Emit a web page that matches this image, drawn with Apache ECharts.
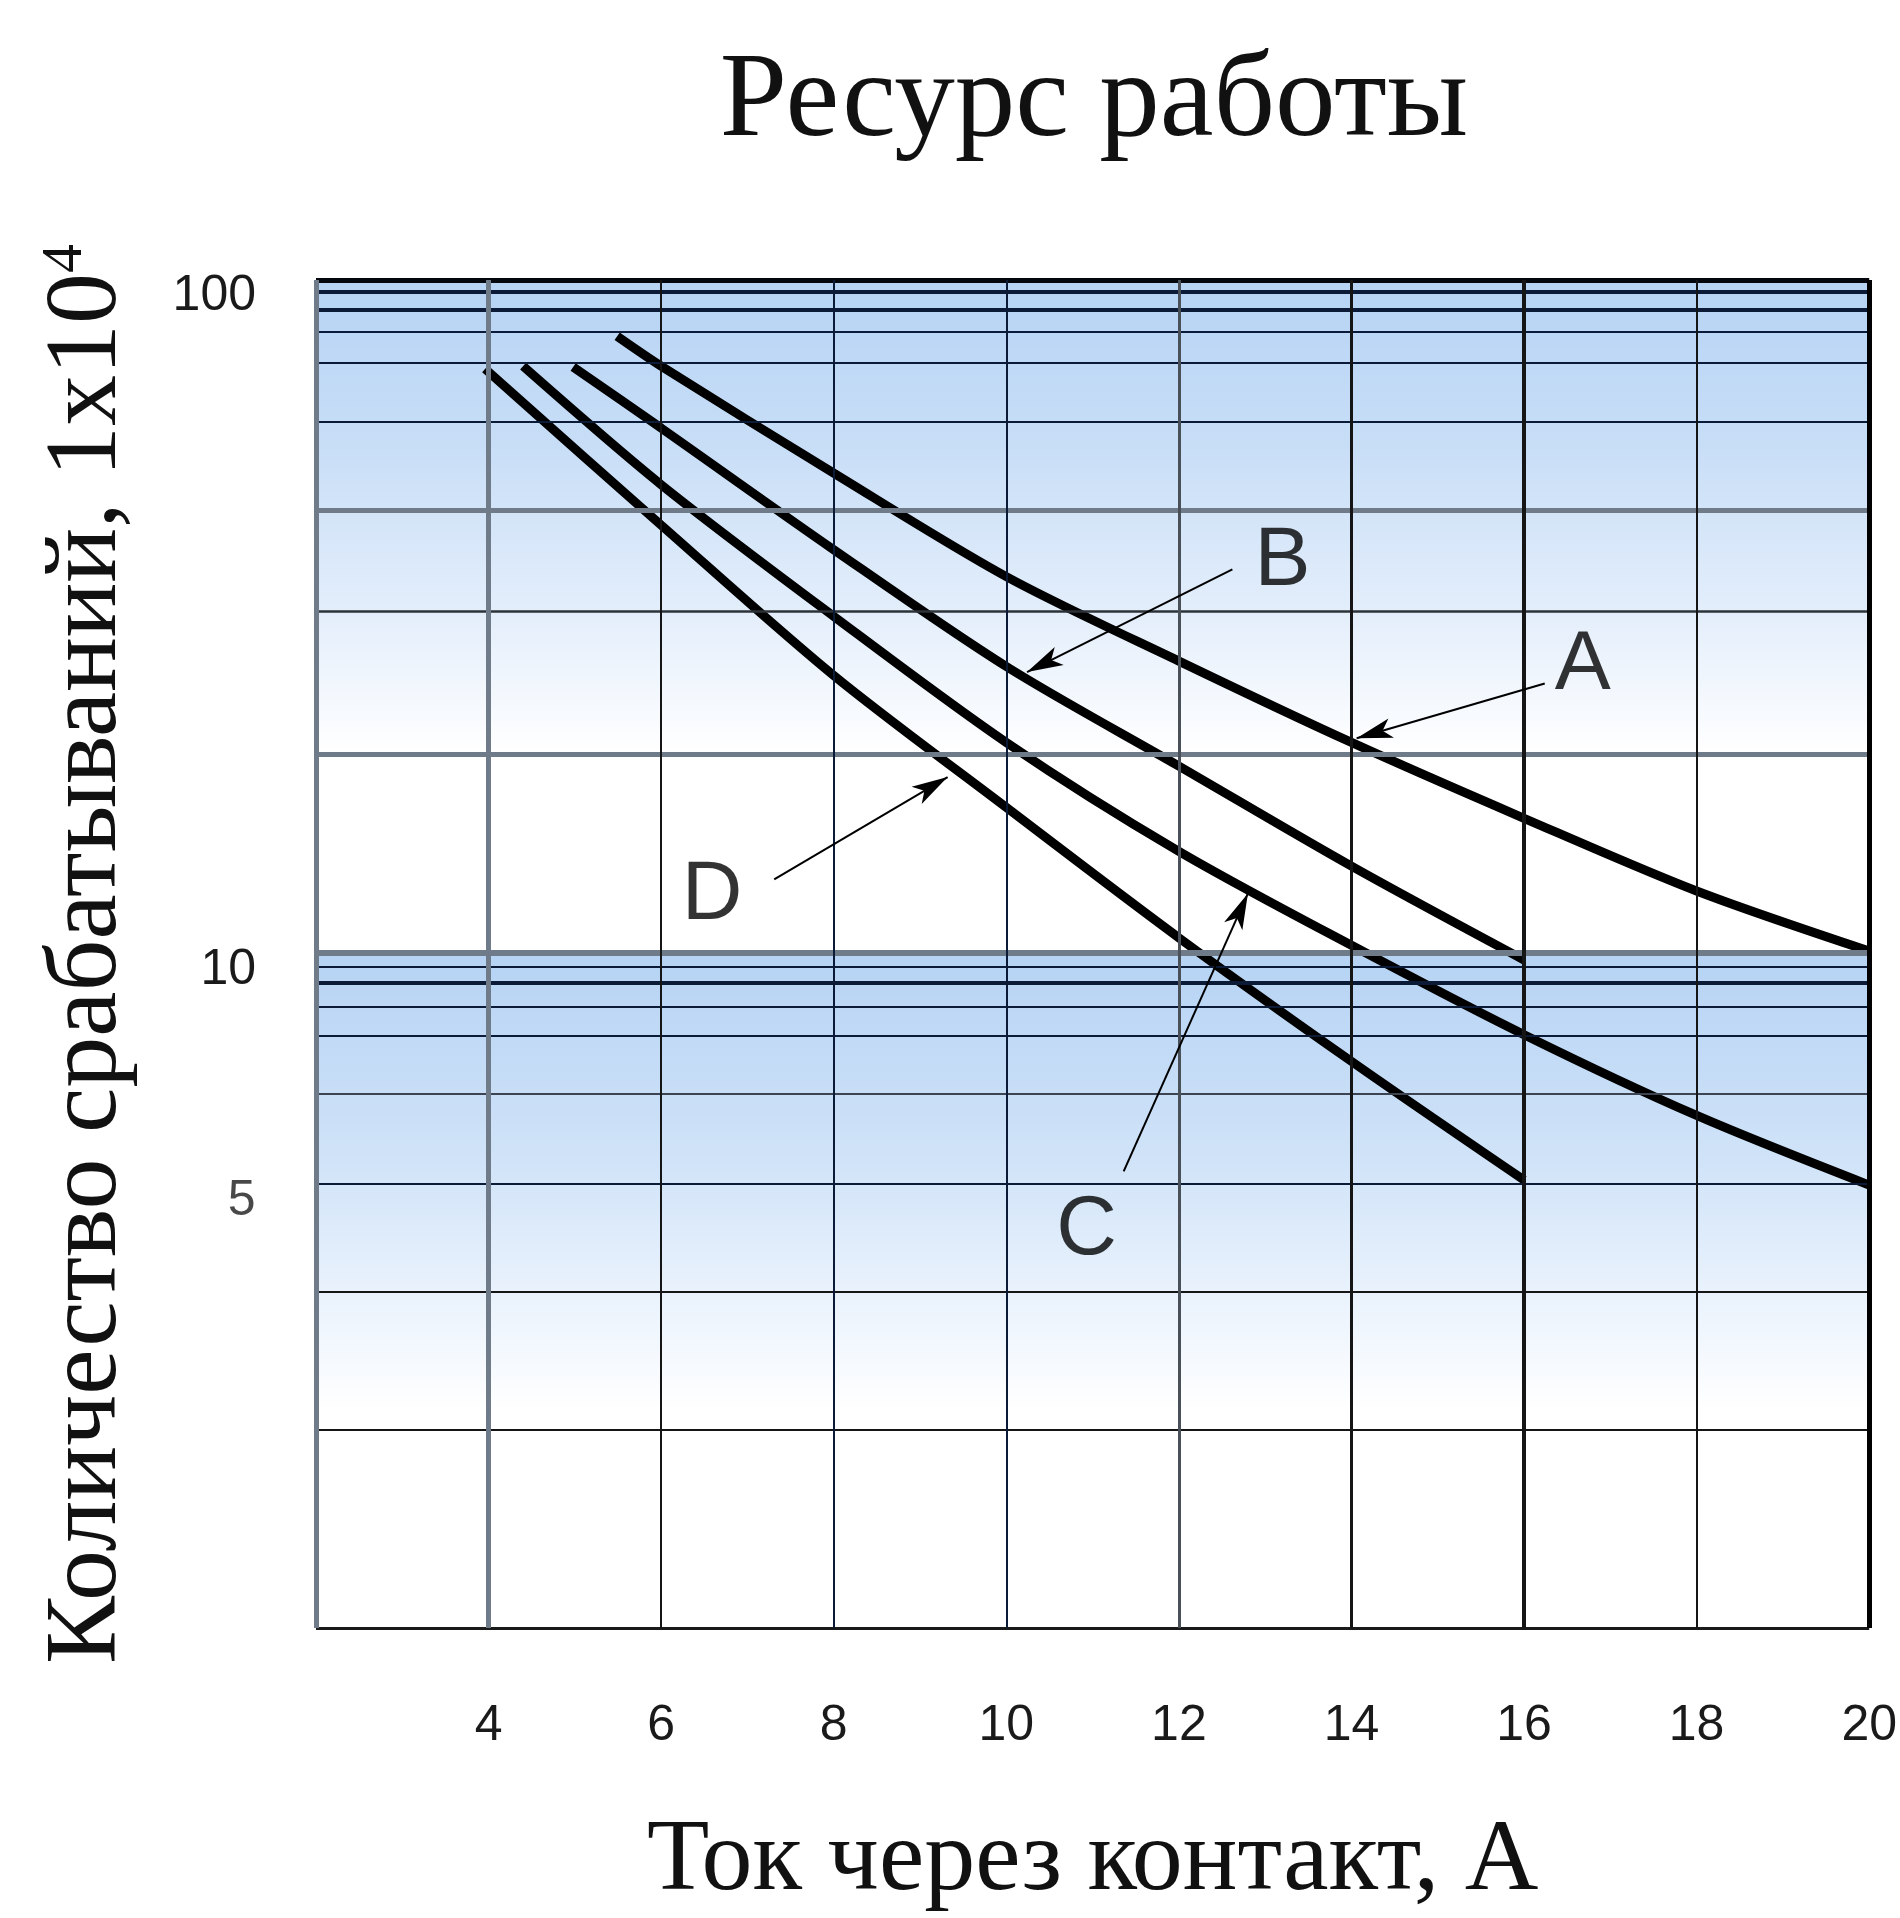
<!DOCTYPE html>
<html>
<head>
<meta charset="utf-8">
<script src="https://cdn.jsdelivr.net/npm/echarts@6/dist/echarts.min.js"></script>
<style>html,body{margin:0;padding:0;background:#ffffff}#chart{width:1900px;height:1918px}</style>
</head>
<body>
<div id="chart"></div>
<script>
// ---- data ----
const titleText = 'Ресурс работы';
const xAxisTitle = 'Ток через контакт, А';
const yAxisTitle = 'Количество срабатываний, 1x10{sup|4}';

const xGridValues = [2, 4, 6, 8, 10, 12, 14, 16, 18, 20];
const hGridValues = [100, 96.0, 90.4, 83.9, 75.3, 61.7, 45.5, 32.2, 19.8,
                     10.05, 9.59, 9.08, 8.35, 7.56, 6.20, 4.56, 3.15, 1.97, 1];
const yExtraTickLabels = ['5'];
const yExtraTickValues = [4.56];

const bandTop = [100, 10.05];
const bandBottom = [19.8, 2.1];

const seriesNames = ['A', 'B', 'C', 'D'];
const currentA = [5.49, 6, 8, 10, 12, 14, 16, 18, 20];
const cyclesA  = [82.5, 74.5, 51.7, 36.3, 27.2, 20.6, 15.9, 12.4, 10.1];
const currentB = [4.98, 6, 8, 10, 12, 14, 16];
const cyclesB  = [74.3, 60.3, 39.8, 26.7, 19.0, 13.5, 9.8];
const currentC = [4.40, 6, 8, 10, 12, 14, 16, 18, 20];
const cyclesC  = [74.5, 49.7, 31.7, 20.6, 14.2, 10.3, 7.59, 5.76, 4.54];
const currentD = [3.96, 6, 8, 10, 12, 14, 16];
const cyclesD  = [73.8, 43.3, 25.9, 16.5, 10.57, 6.93, 4.62];

const annotLetters = ['A', 'B', 'C', 'D'];
const annotLabelX = [16.68, 13.20, 10.93, 6.59];
const annotLabelY = [26.8, 38.2, 3.88, 12.2];
const arrowFromX  = [16.24, 12.62, 11.36, 7.31];
const arrowFromY  = [25.2, 37.2, 4.76, 12.9];
const arrowToX    = [14.06, 10.24, 12.80, 9.32];
const arrowToY    = [20.9, 26.2, 12.3, 18.3];

// ---- styles (kept apart from the data) ----
const NAVY = '#0b1a36', GREY = '#6f7b88', DARK = '#151515';
const vGridStyles = [
  {color: GREY, width: 5}, {color: GREY, width: 5}, {color: DARK, width: 2},
  {color: NAVY, width: 2}, {color: NAVY, width: 2}, {color: '#4a5058', width: 3},
  {color: DARK, width: 3}, {color: DARK, width: 4}, {color: DARK, width: 2},
  {color: '#000000', width: 5}
];
const hGridStyles = [
  {color: '#05070f', width: 5}, {color: NAVY, width: 4}, {color: NAVY, width: 4},
  {color: NAVY, width: 2}, {color: NAVY, width: 2}, {color: NAVY, width: 2},
  {color: GREY, width: 5}, {color: '#2d3238', width: 2.5}, {color: GREY, width: 5},
  {color: GREY, width: 6}, {color: NAVY, width: 2}, {color: NAVY, width: 4},
  {color: NAVY, width: 2}, {color: NAVY, width: 2}, {color: '#3b4450', width: 2},
  {color: NAVY, width: 2}, {color: DARK, width: 2}, {color: DARK, width: 2},
  {color: '#1a1a1a', width: 3}
];
const bandGradients = [
  {type: 'linear', x: 0, y: 0, x2: 0, y2: 1, colorStops: [
    {offset: 0, color: '#b6d3f4'}, {offset: 0.35, color: '#c8def7'},
    {offset: 0.72, color: '#e5effb'}, {offset: 1, color: '#ffffff'}]},
  {type: 'linear', x: 0, y: 0, x2: 0, y2: 1, colorStops: [
    {offset: 0, color: '#b6d3f4'}, {offset: 0.45, color: '#d0e3f8'},
    {offset: 0.8, color: '#eef5fd'}, {offset: 1, color: '#ffffff'}]}
];

const zip = (xs, ys) => xs.map((x, i) => [x, ys[i]]);
const curveData = [zip(currentA, cyclesA), zip(currentB, cyclesB), zip(currentC, cyclesC), zip(currentD, cyclesD)];

const chart = echarts.init(document.getElementById('chart'), null, {renderer: 'canvas'});

const option = {
  animation: false,
  backgroundColor: '#ffffff',
  title: {
    text: titleText,
    left: 1089, top: 38, textAlign: 'center',
    textStyle: {fontFamily: 'Liberation Serif', fontSize: 121, fontWeight: 'normal', color: '#111111'}
  },
  grid: {left: 316, right: 30, top: 280, bottom: 275, containLabel: false},
  xAxis: {
    type: 'value', min: 2, max: 20, interval: 2,
    axisLine: {show: false}, axisTick: {show: false}, splitLine: {show: false},
    axisLabel: {
      formatter: v => (v === 2 ? '' : String(v)),
      fontFamily: 'Liberation Sans', fontSize: 50, color: '#1a1a1a', margin: 73
    },
    name: xAxisTitle, nameLocation: 'middle', nameGap: 183,
    nameTextStyle: {fontFamily: 'Liberation Serif', fontSize: 102, color: '#111111'}
  },
  yAxis: {
    type: 'log', logBase: 10, min: 1, max: 100,
    axisLine: {show: false}, axisTick: {show: false}, splitLine: {show: false},
    axisLabel: {
      formatter: v => (v === 1 ? '' : String(v)),
      fontFamily: 'Liberation Sans', fontSize: 50, color: '#1a1a1a', margin: 60,
      verticalAlign: 'top', lineHeight: 32
    },
    name: yAxisTitle, nameLocation: 'middle', nameGap: 177, nameRotate: 90,
    nameTextStyle: {
      fontFamily: 'Liberation Serif', fontSize: 102, color: '#111111',
      rich: {sup: {fontFamily: 'Liberation Serif', fontSize: 58, color: '#111111', verticalAlign: 'top'}}
    }
  },
  series: [
    {
      name: 'bands', type: 'line', data: [], z: 1, silent: true,
      markArea: {
        silent: true,
        data: bandTop.map((t, i) => [
          {yAxis: t, itemStyle: {color: bandGradients[i]}},
          {yAxis: bandBottom[i]}
        ])
      }
    },
    {
      name: 'gridlines', type: 'line', data: [], z: 2, silent: true,
      markLine: {
        silent: true, symbol: ['none', 'none'], label: {show: false},
        data: [
          ...hGridValues.map((v, i) => ({yAxis: v, lineStyle: {type: 'solid', color: hGridStyles[i].color, width: hGridStyles[i].width}})),
          ...xGridValues.map((v, i) => ({xAxis: v, lineStyle: {type: 'solid', color: vGridStyles[i].color, width: vGridStyles[i].width}}))
        ]
      }
    },
    ...curveData.map((d, i) => ({
      name: seriesNames[i], type: 'line', data: d, z: 4,
      smooth: 0.3, showSymbol: false, symbol: 'none',
      lineStyle: {color: '#000000', width: 9}
    })),
    {
      name: 'arrows', type: 'line', data: [], z: 5, silent: true,
      markLine: {
        silent: true, symbol: ['none', 'arrow'], symbolSize: [15, 36],
        label: {show: false},
        lineStyle: {type: 'solid', color: '#000000', width: 2},
        data: annotLetters.map((l, i) => [
          {coord: [arrowFromX[i], arrowFromY[i]]},
          {coord: [arrowToX[i], arrowToY[i]]}
        ])
      }
    },
    {
      name: 'letters', type: 'scatter', z: 6, silent: true, clip: false,
      symbolSize: 1, itemStyle: {color: 'rgba(0,0,0,0)'},
      label: {show: true, position: 'inside', formatter: '{b}',
              fontFamily: 'Liberation Sans', fontSize: 84, color: '#000000'},
      data: annotLetters.map((l, i) => ({name: l, value: [annotLabelX[i], annotLabelY[i]]}))
    },
    {
      name: 'extraTicks', type: 'scatter', z: 6, silent: true, clip: false,
      symbolSize: 1, itemStyle: {color: 'rgba(0,0,0,0)'},
      label: {show: true, position: [-60, 18], align: 'right', verticalAlign: 'middle', formatter: '{b}',
              fontFamily: 'Liberation Sans', fontSize: 50, color: '#1a1a1a'},
      data: yExtraTickLabels.map((l, i) => ({name: l, value: [2, yExtraTickValues[i]]}))
    }
  ]
};
chart.setOption(option);
</script>
</body>
</html>
